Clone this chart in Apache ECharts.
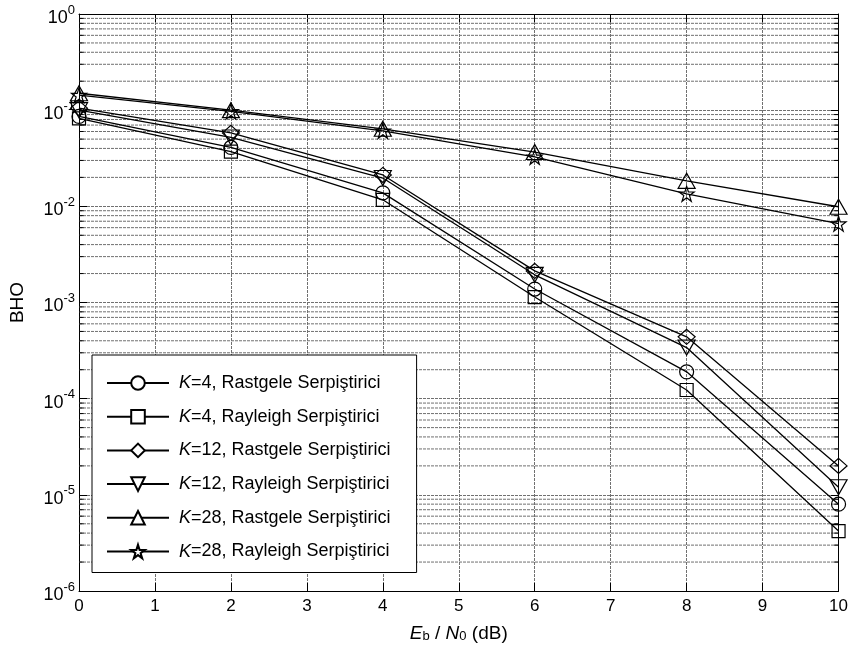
<!DOCTYPE html>
<html>
<head>
<meta charset="utf-8">
<script src="https://cdn.jsdelivr.net/npm/echarts@6/dist/echarts.min.js"></script>
<style>
  html, body { margin: 0; padding: 0; background: #fff; }
  #chart { width: 851px; height: 654px; }
</style>
</head>
<body>
<div id="chart"></div>
<script>
// Eb/N0 points (dB)
const snr = [0, 2, 4, 6, 8, 10];

// Bit error rate (BHO) per configuration
const k4Random    = [0.086, 0.041, 0.0138, 0.00138, 1.9e-4, 8.0e-6];
const k4Rayleigh  = [0.082, 0.037, 0.0117, 0.00114, 1.23e-4, 4.2e-6];
const k12Random   = [0.105, 0.058, 0.0212, 0.00213, 4.4e-4, 2.0e-5];
const k12Rayleigh = [0.100, 0.052, 0.0197, 0.00194, 3.4e-4, 1.2e-5];
const k28Random   = [0.150, 0.100, 0.064, 0.0367, 0.0184, 0.0099];
const k28Rayleigh = [0.143, 0.097, 0.061, 0.0327, 0.0135, 0.0066];

const seriesNames = [
  'K=4, Rastgele Serpiştirici',
  'K=4, Rayleigh Serpiştirici',
  'K=12, Rastgele Serpiştirici',
  'K=12, Rayleigh Serpiştirici',
  'K=28, Rastgele Serpiştirici',
  'K=28, Rayleigh Serpiştirici'
];

const FONT = 'Liberation Sans, Arial, sans-serif';
const STAR = 'path://M50,2 L61.2,36.5 L97.6,36.5 L68.2,57.9 L79.4,92.5 L50,71.1 L20.6,92.5 L31.8,57.9 L2.4,36.5 L38.8,36.5 Z';

// minor grid levels 2..9 within each decade
const minorLevels = [];
for (let e = -6; e < 0; e++) {
  for (let m = 2; m <= 9; m++) minorLevels.push(m * Math.pow(10, e));
}

// polylines broken by empty points: one segment per level
function segments(levels, x0, x1) {
  const pts = [];
  levels.forEach(v => { pts.push([x0, v], [x1, v], [x1, '-']); });
  return pts;
}

function helperLines(name, data, style, z) {
  return {
    name: name,
    type: 'line',
    data: data,
    symbol: 'none',
    silent: true,
    connectNulls: false,
    clip: true,
    z: z,
    lineStyle: style,
    emphasis: { disabled: true },
    tooltip: { show: false }
  };
}

function curve(name, values, symbol, size, rotate) {
  return {
    name: name,
    type: 'line',
    data: snr.map((x, i) => [x, values[i]]),
    symbol: symbol,
    symbolSize: size,
    symbolRotate: rotate || 0,
    showAllSymbol: true,
    clip: false,
    z: 5,
    lineStyle: { color: '#000', width: 1.3 },
    itemStyle: { color: 'rgba(255,255,255,0)', borderColor: '#000', borderWidth: 1.2 },
    emphasis: { disabled: true }
  };
}

const gridStyle = { color: '#707070', type: [3, 1], width: 1 };
const tickStyle = { color: '#000', type: 'solid', width: 1 };

const chart = echarts.init(document.getElementById('chart'), null, { renderer: 'canvas' });

chart.setOption({
  animation: false,
  backgroundColor: '#fff',
  textStyle: { fontFamily: FONT, color: '#000' },
  grid: { left: 78, right: 4, top: 14, bottom: 63 },
  legend: {
    data: seriesNames,
    orient: 'vertical',
    left: 92,
    top: 355,
    itemWidth: 62,
    itemHeight: 17,
    itemGap: 15.7,
    padding: [19, 26, 12, 14],
    backgroundColor: '#fff',
    borderColor: '#000',
    borderWidth: 1,
    borderRadius: 0,
    selectedMode: false,
    itemStyle: { color: '#fff' },
    formatter: function (name) {
      const p = name.split('=');
      return '{i|' + p[0] + '}{n|=' + p[1] + '}';
    },
    textStyle: {
      color: '#000',
      fontFamily: FONT,
      fontSize: 18,
      padding: [0, 0, 0, 5],
      rich: {
        i: { fontSize: 18, fontStyle: 'italic', fontFamily: FONT, color: '#000' },
        n: { fontSize: 18, fontFamily: FONT, color: '#000' }
      }
    }
  },
  xAxis: [{
    type: 'value',
    min: 0,
    max: 10,
    interval: 1,
    position: 'bottom',
    name: '{i|E}{s|b}{n| / }{i|N}{s|0}{n| (dB)}',
    nameLocation: 'middle',
    nameGap: 33,
    nameTextStyle: {
      rich: {
        i: { fontSize: 19, fontStyle: 'italic', fontFamily: FONT, color: '#000' },
        n: { fontSize: 19, fontFamily: FONT, color: '#000' },
        s: { fontSize: 13, fontFamily: FONT, color: '#000', padding: [6, 0, 0, 0] }
      }
    },
    axisLine: { show: true, onZero: false, lineStyle: { color: '#000', width: 1 } },
    axisTick: { show: true, inside: true, length: 8, lineStyle: { color: '#000' } },
    axisLabel: { fontSize: 17, fontFamily: FONT, color: '#000', margin: 7 },
    splitLine: { show: true, lineStyle: gridStyle }
  }, {
    type: 'value',
    min: 0,
    max: 10,
    interval: 1,
    position: 'top',
    axisLine: { show: true, onZero: false, lineStyle: { color: '#000', width: 1 } },
    axisTick: { show: true, inside: true, length: 8, lineStyle: { color: '#000' } },
    axisLabel: { show: false },
    splitLine: { show: false }
  }],
  yAxis: [{
    type: 'log',
    logBase: 10,
    min: 1e-6,
    max: 1,
    splitNumber: 6,
    position: 'left',
    name: 'BHO',
    nameLocation: 'middle',
    nameGap: 52,
    nameRotate: 90,
    nameTextStyle: { fontSize: 19, fontFamily: FONT, color: '#000' },
    axisLine: { show: true, onZero: false, lineStyle: { color: '#000', width: 1 } },
    axisTick: { show: true, inside: true, length: 8, lineStyle: { color: '#000' } },
    axisLabel: {
      margin: 4,
      formatter: function (v) {
        return '{b|10}{e|' + Math.round(Math.log10(v)) + '}';
      },
      rich: {
        b: { fontSize: 18, fontFamily: FONT, color: '#000', padding: [8, 0, 0, 0] },
        e: { fontSize: 13, fontFamily: FONT, color: '#000', padding: [0, 0, 8, 0] }
      }
    },
    splitLine: { show: true, lineStyle: gridStyle }
  }, {
    type: 'log',
    logBase: 10,
    min: 1e-6,
    max: 1,
    splitNumber: 6,
    position: 'right',
    axisLine: { show: true, onZero: false, lineStyle: { color: '#000', width: 1 } },
    axisTick: { show: true, inside: true, length: 8, lineStyle: { color: '#000' } },
    axisLabel: { show: false },
    splitLine: { show: false }
  }],
  series: [
    helperLines('minor-grid', segments(minorLevels, 0, 10), gridStyle, 1),
    helperLines('minor-ticks-left', segments(minorLevels, 0, 0.06), tickStyle, 2),
    helperLines('minor-ticks-right', segments(minorLevels, 9.94, 10), tickStyle, 2),
    curve(seriesNames[0], k4Random, 'circle', 14),
    curve(seriesNames[1], k4Rayleigh, 'rect', 13),
    curve(seriesNames[2], k12Random, 'diamond', [17, 15]),
    curve(seriesNames[3], k12Rayleigh, 'triangle', [17, 15], 180),
    curve(seriesNames[4], k28Random, 'triangle', [17, 15]),
    curve(seriesNames[5], k28Rayleigh, STAR, 15)
  ]
});
</script>
</body>
</html>
